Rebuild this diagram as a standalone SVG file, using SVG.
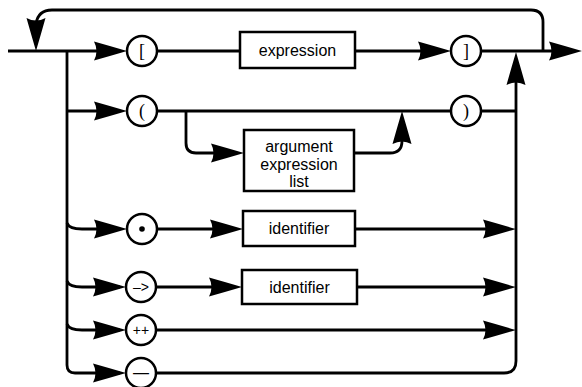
<svg xmlns="http://www.w3.org/2000/svg" xmlns:xlink="http://www.w3.org/1999/xlink" width="582" height="387" viewBox="0 0 582 387">
  <style>
    .ln{fill:none;stroke:#000;stroke-width:2.8;stroke-linejoin:round}
    .box{fill:#fff;stroke:#000;stroke-width:2.5}
    .term{fill:#fff;stroke:#000;stroke-width:2.5}
    .lbl{font-family:"Liberation Sans",Arial,Helvetica,sans-serif;font-size:16px;text-anchor:middle;fill:#000}
    .sym{font-family:"Liberation Serif","Times New Roman",serif;font-size:18px;text-anchor:middle;fill:#000}
    .op{font-family:"Liberation Sans",Arial,Helvetica,sans-serif;font-size:14px;text-anchor:middle;fill:#000}
    .ah{fill:#000}
  </style>
  <defs>
    <!-- filled arrowhead, tip at the origin, pointing along +x -->
    <path id="ah" d="M0,0 Q-17,-5 -33,-9.5 Q-28,0 -33,9.5 Q-17,5 0,0 Z"/>
  </defs>

  <g id="connectors">
    <!-- main line and trunk -->
    <path class="ln" d="M8,51 H120"/>
    <path class="ln" d="M67,51 V365 Q67,373 75,373 H120"/>
    <!-- repeat loop over the top -->
    <path class="ln" d="M543,51 V22 Q543,10 531,10 H52 Q38,10 36,24 V40"/>
    <!-- row 1: [ expression ] -->
    <path class="ln" d="M157,51 H240"/>
    <path class="ln" d="M355,51 H444"/>
    <path class="ln" d="M481,51 H572"/>
    <!-- row 2: ( argument-expression-list ) -->
    <path class="ln" d="M67,111 H120"/>
    <path class="ln" d="M157,111 H451"/>
    <path class="ln" d="M481,111 H516"/>
    <path class="ln" d="M186,111 V143 Q186,153 196,153 H236"/>
    <path class="ln" d="M354,153 H390 Q402,153 402,141 V120"/>
    <!-- right collector -->
    <path class="ln" d="M516,361 V62"/>
    <!-- row 3: . identifier -->
    <path class="ln" d="M67,223 Q69,229 82,229 H120"/>
    <path class="ln" d="M157,229 H236"/>
    <path class="ln" d="M355,229 H508"/>
    <!-- row 4: -> identifier -->
    <path class="ln" d="M67,281 Q69,287 82,287 H120"/>
    <path class="ln" d="M156,287 H235"/>
    <path class="ln" d="M357,287 H508"/>
    <!-- row 5: ++ -->
    <path class="ln" d="M67,324 Q69,330 82,330 H120"/>
    <path class="ln" d="M156,330 H508"/>
    <!-- row 6: decrement -->
    <path class="ln" d="M156,373 H504 Q516,373 516,361"/>

    <!-- arrowheads -->
    <use class="ah" xlink:href="#ah" transform="translate(127,51)"/>
    <use class="ah" xlink:href="#ah" transform="translate(36,51) rotate(90)"/>
    <use class="ah" xlink:href="#ah" transform="translate(451,51)"/>
    <use class="ah" xlink:href="#ah" transform="translate(582,51)"/>
    <use class="ah" xlink:href="#ah" transform="translate(127,111)"/>
    <use class="ah" xlink:href="#ah" transform="translate(244,153)"/>
    <use class="ah" xlink:href="#ah" transform="translate(402,111) rotate(-90)"/>
    <use class="ah" xlink:href="#ah" transform="translate(516,52) rotate(-90)"/>
    <use class="ah" xlink:href="#ah" transform="translate(127,229)"/>
    <use class="ah" xlink:href="#ah" transform="translate(243,229)"/>
    <use class="ah" xlink:href="#ah" transform="translate(516,229)"/>
    <use class="ah" xlink:href="#ah" transform="translate(126,287)"/>
    <use class="ah" xlink:href="#ah" transform="translate(242,287)"/>
    <use class="ah" xlink:href="#ah" transform="translate(516,287)"/>
    <use class="ah" xlink:href="#ah" transform="translate(126,330)"/>
    <use class="ah" xlink:href="#ah" transform="translate(516,330)"/>
    <use class="ah" xlink:href="#ah" transform="translate(126,373)"/>
  </g>

  <g id="lbracket">
    <circle class="term" cx="142" cy="51" r="15"/>
    <text class="sym" x="142" y="57">[</text>
  </g>
  <g id="expression">
    <rect class="box" x="240" y="32" width="115" height="36"/>
    <text class="lbl" x="297.5" y="56">expression</text>
  </g>
  <g id="rbracket">
    <circle class="term" cx="466" cy="51" r="15"/>
    <text class="sym" x="466" y="57">]</text>
  </g>

  <g id="lparen">
    <circle class="term" cx="142" cy="111" r="15"/>
    <text class="sym" x="142" y="117">(</text>
  </g>
  <g id="argument-expression-list">
    <rect class="box" x="244" y="130" width="110" height="61"/>
    <text class="lbl" x="299" y="152">argument</text>
    <text class="lbl" x="299" y="170">expression</text>
    <text class="lbl" x="299" y="187">list</text>
  </g>
  <g id="rparen">
    <circle class="term" cx="466" cy="111" r="15"/>
    <text class="sym" x="466" y="117">)</text>
  </g>

  <g id="dot">
    <circle class="term" cx="142" cy="229" r="15"/>
    <circle cx="142" cy="229" r="2.8" fill="#000"/>
  </g>
  <g id="identifier-1">
    <rect class="box" x="243" y="211" width="112" height="35"/>
    <text class="lbl" x="299" y="234">identifier</text>
  </g>

  <g id="arrow-op">
    <circle class="term" cx="141" cy="287" r="15"/>
    <text class="op" x="141" y="292">–&gt;</text>
  </g>
  <g id="identifier-2">
    <rect class="box" x="242" y="270" width="115" height="34"/>
    <text class="lbl" x="299.5" y="293">identifier</text>
  </g>

  <g id="increment">
    <circle class="term" cx="141" cy="330" r="15"/>
    <text class="op" x="141" y="335">++</text>
  </g>

  <g id="decrement">
    <circle class="term" cx="141" cy="373" r="15"/>
    <text class="op" x="141" y="378" style="font-size:16px">—</text>
  </g>
</svg>
